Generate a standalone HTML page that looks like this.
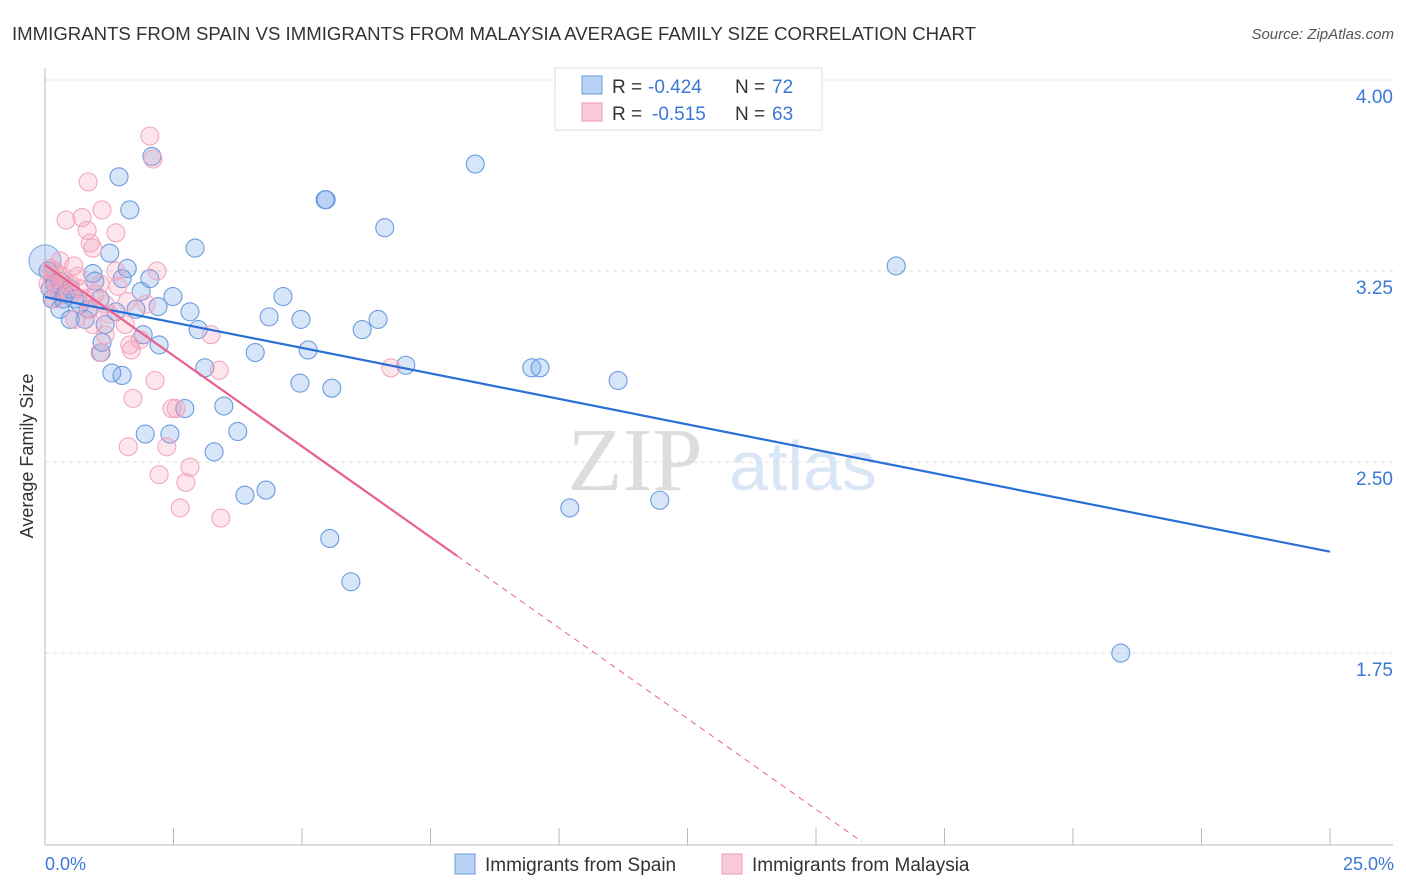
<!DOCTYPE html>
<html><head><meta charset="utf-8"><style>
body{margin:0;background:#fff;font-family:"Liberation Sans",sans-serif;}
svg{display:block}
</style></head><body>
<svg id="chart" width="1406" height="892">
<text x="12" y="40" font-size="18" fill="#333" textLength="964" lengthAdjust="spacingAndGlyphs">IMMIGRANTS FROM SPAIN VS IMMIGRANTS FROM MALAYSIA AVERAGE FAMILY SIZE CORRELATION CHART</text>
<text x="1394" y="39" font-size="15" fill="#555" text-anchor="end" font-style="italic">Source: ZipAtlas.com</text>
<text x="33" y="456" font-size="18" fill="#333" text-anchor="middle" transform="rotate(-90 33 456)">Average Family Size</text>
<g>
<text x="635" y="490" font-size="90" fill="#ddd" text-anchor="middle" font-family="Liberation Serif,serif">ZIP</text>
<text x="803" y="490" font-size="70" fill="#d8e6f6" text-anchor="middle">atlas</text>
</g>
<g id="grid"></g><g id="axes"></g><g id="pts"></g><g id="lines"></g>
<g>
<rect x="555" y="68" width="267" height="62" fill="#fff" stroke="#ddd"/>
<rect x="582" y="76" width="20" height="18" fill="#b9d1f5" stroke="#6d9be0"/>
<rect x="582" y="103" width="20" height="18" fill="#fbcad9" stroke="#ee9ab5"/>
<text x="612" y="93" font-size="19" fill="#333">R =</text>
<text x="648" y="93" font-size="19" fill="#3a78d8">-0.424</text>
<text x="735" y="93" font-size="19" fill="#333">N =</text>
<text x="772" y="93" font-size="19" fill="#3a78d8">72</text>
<text x="612" y="120" font-size="19" fill="#333">R =</text>
<text x="652" y="120" font-size="19" fill="#3a78d8">-0.515</text>
<text x="735" y="120" font-size="19" fill="#333">N =</text>
<text x="772" y="120" font-size="19" fill="#3a78d8">63</text>
</g>
<g>
<rect x="455" y="854" width="20" height="20" fill="#b9d1f5" stroke="#6d9be0"/>
<text x="485" y="871" font-size="19" fill="#333">Immigrants from Spain</text>
<rect x="722" y="854" width="20" height="20" fill="#fbcad9" stroke="#ee9ab5"/>
<text x="752" y="871" font-size="19" fill="#333">Immigrants from Malaysia</text>
</g>
<text x="45" y="870" font-size="18" fill="#3a78d8">0.0%</text>
<text x="1394" y="870" font-size="18" fill="#3a78d8" text-anchor="end">25.0%</text>
</svg>
<script>
const yTicks=[4.00,3.25,2.50,1.75];
const yTickLabels=["4.00","3.25","2.50","1.75"];
const spainX=[8.37,5.47,5.45,6.61,2.08,1.44,1.65,2.92,1.26,1.60,16.56,0.93,2.04,1.50,1.87,2.49,4.63,0.35,2.20,2.82,4.36,4.98,6.48,6.17,2.98,1.38,1.77,0.84,0.29,0.49,0.78,1.91,2.22,1.11,4.09,5.12,7.02,9.47,9.63,11.15,4.96,5.58,3.11,1.30,1.50,1.09,3.48,2.72,3.75,1.95,2.43,3.29,10.21,11.96,3.89,4.30,5.54,5.95,20.93,0.10,0.58,0.39,0.19,0.68,1.07,1.17,0.97,0.29,0.49,0.06,0.14];
const spainY=[3.67,3.53,3.53,3.42,3.70,3.62,3.49,3.34,3.32,3.26,3.27,3.24,3.22,3.22,3.17,3.15,3.15,3.14,3.11,3.09,3.07,3.06,3.06,3.02,3.02,3.09,3.10,3.10,3.10,3.06,3.06,3.00,2.96,2.97,2.93,2.94,2.88,2.87,2.87,2.82,2.81,2.79,2.87,2.85,2.84,2.93,2.72,2.71,2.62,2.61,2.61,2.54,2.32,2.35,2.37,2.39,2.20,2.03,1.75,3.18,3.14,3.16,3.20,3.12,3.14,3.04,3.21,3.21,3.18,3.25,3.14];
const malX=[2.04,2.10,0.84,1.11,0.41,0.72,1.38,0.82,0.88,0.93,1.38,2.18,0.56,0.19,0.64,1.42,0.33,0.49,0.97,1.60,1.97,1.17,0.93,1.56,3.23,1.17,1.65,1.07,1.68,6.73,3.39,2.14,1.71,2.47,2.55,1.62,2.37,2.82,2.22,2.74,2.63,3.42,0.10,0.06,0.25,0.39,0.68,0.19,0.49,0.29,0.88,0.78,1.26,0.58,0.14,1.85,1.07];
const malY=[3.78,3.69,3.60,3.49,3.45,3.46,3.40,3.41,3.36,3.34,3.25,3.25,3.27,3.25,3.23,3.19,3.23,3.20,3.16,3.13,3.12,3.12,3.04,3.04,3.00,3.00,2.96,2.93,2.94,2.87,2.86,2.82,2.75,2.71,2.71,2.56,2.56,2.48,2.45,2.42,2.32,2.28,3.26,3.20,3.18,3.21,3.18,3.14,3.16,3.29,3.10,3.14,3.08,3.06,3.22,2.98,3.20];
const spainTrend=[3.148,-0.04];
const malTrend=[3.274,-0.1425];
const X=p=>45+p*51.4, Y=v=>80+(4-v)*254.7;
const NS="http://www.w3.org/2000/svg";
function mk(parent,tag,attrs){const e=document.createElementNS(NS,tag);for(const k in attrs)e.setAttribute(k,attrs[k]);document.getElementById(parent).appendChild(e);return e;}
yTicks.forEach((t,i)=>{
 const g=mk('grid','line',{x1:45,x2:1393,y1:Y(t),y2:Y(t),stroke:'#ddd','stroke-dasharray':'4,4'});
 
 
 const l=mk('grid','text',{x:1393,y:Y(t)+23,'font-size':19,fill:'#3a78d8','text-anchor':'end'});
 l.textContent=yTickLabels[i];
 
 
});
const ax=mk('axes','line',{x1:45,x2:45,y1:68,y2:845,stroke:'#bbb'});


const bx=mk('axes','line',{x1:45,x2:1393,y1:845,y2:845,stroke:'#bbb'});


for(let i=0;i<=10;i++){
 const t=mk('axes','line',{x1:X(i*2.5),x2:X(i*2.5),y1:828,y2:845,stroke:'#bbb'});
 
 
}
const big=mk('pts','circle',{cx:X(0),cy:Y(3.29),r:16,fill:'rgba(110,160,235,0.3)',stroke:'#7aa6e4'});


spainX.forEach((x,i)=>{
 const c=mk('pts','circle',{cx:X(x),cy:Y(spainY[i]),r:9,fill:'rgba(110,160,235,0.28)',stroke:'#6d9be0','stroke-width':1.1});
 
 
});
malX.forEach((x,i)=>{
 const c=mk('pts','circle',{cx:X(x),cy:Y(malY[i]),r:9,fill:'rgba(242,140,170,0.22)',stroke:'#f2a8c0','stroke-width':1.1});
 
 
});
const f=(tr,p)=>tr[0]+tr[1]*p;
const bl=mk('lines','line',{x1:X(0),y1:Y(f(spainTrend,0)),x2:X(25),y2:Y(f(spainTrend,25)),stroke:'#2a6fd6','stroke-width':2.2});


const pl=mk('lines','line',{x1:X(0),y1:Y(f(malTrend,0)),x2:X(8.02),y2:Y(f(malTrend,8.02)),stroke:'#e8608c','stroke-width':2.2});


const pd=mk('lines','line',{x1:X(8.02),y1:Y(f(malTrend,8.02)),x2:X(15.9),y2:Y(f(malTrend,15.9)),stroke:'#e8608c','stroke-width':1,'stroke-dasharray':'6,5'});


</script>
</body></html>
